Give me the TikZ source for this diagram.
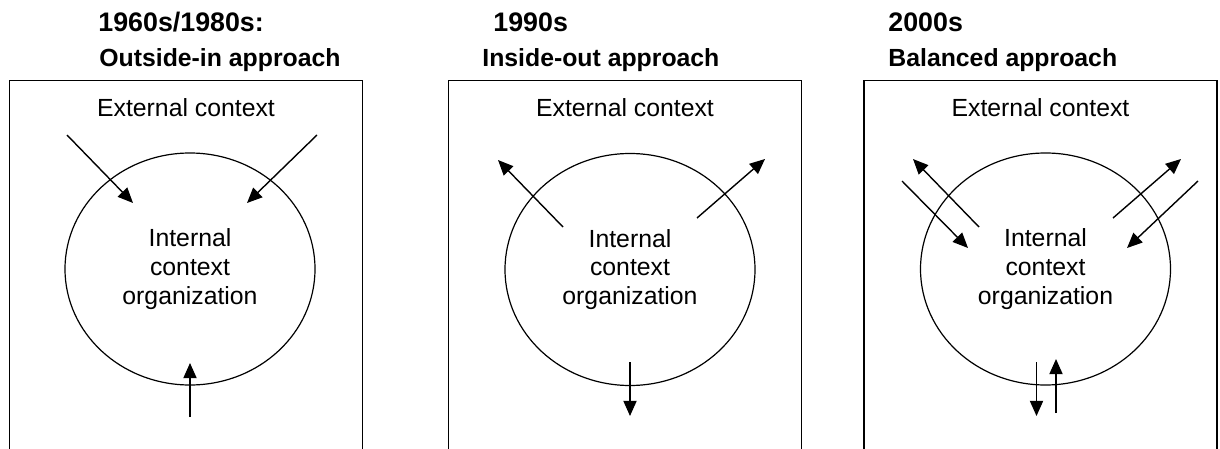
\documentclass[tikz,border=0pt]{standalone}
\usepackage{fontspec}
\setmainfont{Liberation Sans}
\usetikzlibrary{arrows.meta,shapes.geometric,positioning}

\begin{document}
\begin{tikzpicture}[x=0.5pt,y=-0.5pt,>={Triangle[length=7.6pt,width=6.6pt]},
 frame/.style={minimum width=176pt,minimum height=184pt,inner sep=0pt},
 org/.style={draw,ellipse,line width=.6pt,minimum width=125pt,minimum height=116pt,
 inner sep=0pt,align=center,font=\fontsize{12.4}{14.3}\selectfont},
 era/.style={anchor=base west,inner sep=0pt,font=\bfseries\fontsize{13.4}{16}\selectfont},
 approach/.style={anchor=base west,inner sep=0pt,font=\bfseries\fontsize{12.4}{14}\selectfont},
 ext/.style={anchor=base,inner sep=0pt,font=\fontsize{12.4}{14}\selectfont},
 flow/.style={->,line width=.7pt}]
 \useasboundingbox (0,0) rectangle (1220,449);
 % headings
 \node[era] (era1) at (98,32) {1960s/1980s:};
 \node[approach] (appr1) at (99,67) {Outside-in approach};
 \node[era] (era2) at (493,32) {1990s};
 \node[approach] (appr2) at (482,67) {Inside-out approach};
 \node[era] (era3) at (888,32) {2000s};
 \node[approach] (appr3) at (888,67) {Balanced approach};
 % open frames
 \node[frame] (box1) at (186,265) {};
 \node[frame] (box2) at (625,265) {};
 \node[frame] (box3) at (1040.5,265) {};
 \draw[line width=.75pt] (box1.south west) |- (box1.north east) -- (box1.south east);
 \draw[line width=.75pt] (box2.south west) |- (box2.north east) -- (box2.south east);
 \draw[line width=.75pt] (box3.south west) |- (box3.north east) -- (box3.south east);
 \node[ext] (ext1) at (186,117) {External context};
 \node[ext] (ext2) at (625,117) {External context};
 \node[ext] (ext3) at (1040.5,117) {External context};
 % organizations
 \node[org] (org1) at (190,269) {Internal\\context\\organization};
 \node[org] (org2) at (630,269.5) {Internal\\context\\organization};
 \node[org] (org3) at (1045.5,269) {Internal\\context\\organization};
 % outside-in
 \coordinate (p1) at (67,135); \coordinate (q1) at (133,203);
 \coordinate (p2) at (317,135); \coordinate (q2) at (247,203);
 \coordinate (p3) at (190,417); \coordinate (q3) at (190,363);
 \draw[flow] (p1)--(q1);
 \draw[flow] (p2)--(q2);
 \draw[flow] (p3)--(q3);
 % inside-out
 \coordinate (r1) at (563,227); \coordinate (s1) at (498,160);
 \coordinate (r2) at (697,218); \coordinate (s2) at (765,159);
 \coordinate (r3) at (630,362); \coordinate (s3) at (630,416);
 \draw[flow] (r1)--(s1);
 \draw[flow] (r2)--(s2);
 \draw[flow] (r3)--(s3);
 % balanced
 \coordinate (u1) at (979,227); \coordinate (v1) at (913,159);
 \coordinate (u2) at (902,181); \coordinate (v2) at (968,248);
 \coordinate (u3) at (1113,218); \coordinate (v3) at (1181,159);
 \coordinate (u4) at (1198,181); \coordinate (v4) at (1127,248);
 \coordinate (u5) at (1036.5,362); \coordinate (v5) at (1036.5,416);
 \coordinate (u6) at (1056,413); \coordinate (v6) at (1056,359);
 \draw[flow] (u1)--(v1);
 \draw[flow] (u2)--(v2);
 \draw[flow] (u3)--(v3);
 \draw[flow] (u4)--(v4);
 \draw[flow] (u5)--(v5);
 \draw[flow] (u6)--(v6);
\end{tikzpicture}
\end{document}
